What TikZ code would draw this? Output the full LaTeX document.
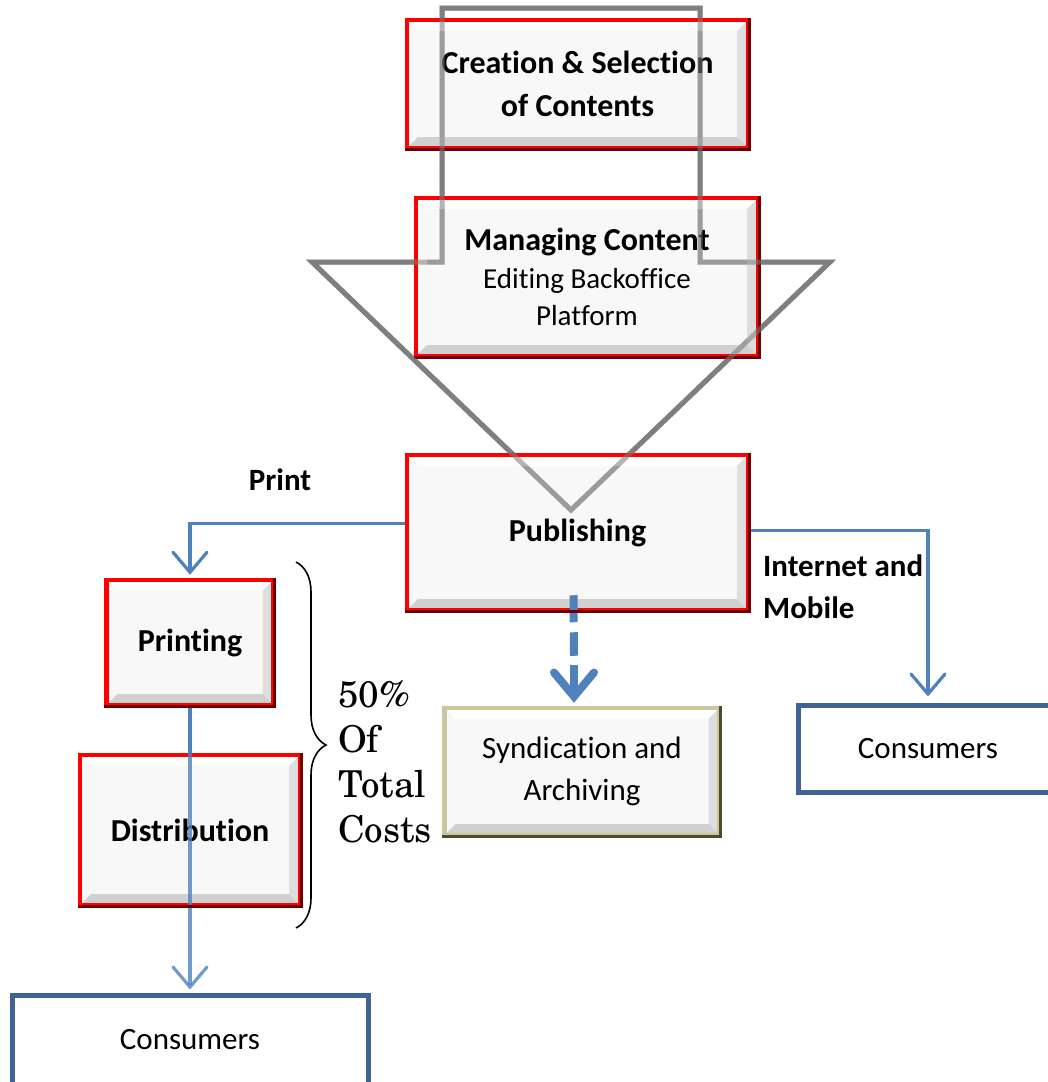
\documentclass[tikz,border=0pt]{standalone}
\usepackage{fontspec}
\newfontfamily\calfont[Ligatures=NoCommon]{Carlito}
\newfontfamily\scholafont{texgyreschola-regular.otf}
\usetikzlibrary{arrows.meta,decorations.pathreplacing}
\definecolor{boxred}{HTML}{FF0000}
\definecolor{darkred}{HTML}{6E0000}
\definecolor{lineblue}{HTML}{4F81BD}
\definecolor{consblue}{HTML}{3F6392}
\definecolor{khaki}{HTML}{CBC5A0}
\definecolor{olivedark}{HTML}{4F4B2A}
\definecolor{boxfill}{HTML}{F2F2F2}
\definecolor{arrowgray}{HTML}{7F7F7F}
\begin{document}
\begin{tikzpicture}[x=1pt,y=-1pt,
  bevelbox/.style={rectangle, fill=boxfill, fill opacity=0.55, text opacity=1, inner sep=0pt, align=center, line width=4.5pt,
    path picture={
      \path (path picture bounding box.north west) coordinate (pA)
            (path picture bounding box.north east) coordinate (pB)
            (path picture bounding box.south east) coordinate (pC)
            (path picture bounding box.south west) coordinate (pD);
      \fill[white, fill opacity=0.9] (pA) -- (pB) -- ([shift={(-11pt,-11pt)}]pB) -- ([shift={(11pt,-11pt)}]pA) -- cycle;
      \fill[white!55!boxfill, fill opacity=0.9] (pA) -- ([shift={(11pt,-11pt)}]pA) -- ([shift={(11pt,11pt)}]pD) -- (pD) -- cycle;
      \fill[gray!28, fill opacity=0.9] (pB) -- (pC) -- ([shift={(-11pt,11pt)}]pC) -- ([shift={(-11pt,-11pt)}]pB) -- cycle;
      \fill[gray!40, fill opacity=0.9] (pD) -- (pC) -- ([shift={(-11pt,11pt)}]pC) -- ([shift={(11pt,11pt)}]pD) -- cycle;
    }},
  redbox/.style={bevelbox, draw=boxred},
  boldtxt/.style={font=\calfont\bfseries\fontsize{32}{43}\selectfont},
  regtxt/.style={font=\calfont\fontsize{31}{42}\selectfont},
  consbox/.style={rectangle, draw=consblue, line width=5pt, fill=white, inner sep=0pt, regtxt},
  bigarrow/.style={draw=arrowgray, line width=5pt, line join=miter},
  conn/.style={draw=lineblue, line width=3.2pt, -{Straight Barb[length=20pt,width=34pt,line cap=round]}},
  plainconn/.style={draw=lineblue, line width=3.2pt},
  dashline/.style={draw=lineblue, line width=8pt, dash pattern=on 27pt off 10pt},
  dashtip/.style={draw=lineblue, line width=8pt, -{Straight Barb[length=24pt,width=40pt,line width=8pt,line cap=round]}},
  lbl/.style={font=\calfont\bfseries\fontsize{31}{42}\selectfont, align=left, inner sep=0pt}
]
\useasboundingbox (0,0) rectangle (1048,1082);

% big background arrow
\draw[bigarrow] (442,8) -- (700,8) -- (700,262) -- (830,262) -- (571,510) -- (312,262) -- (442,262) -- cycle;

\node[redbox, boldtxt, minimum width=341pt, minimum height=155pt] (pub) at (577.5,532.5) {Publishing};
\node[redbox, boldtxt, minimum width=167pt, minimum height=125pt] (printing) at (190,642.5) {Printing};
\node[redbox, boldtxt, minimum width=220pt, minimum height=150pt] (distrib) at (190,830) {Distribution};
\node[consbox, minimum width=356pt, minimum height=90pt] (cons1) at (190,1040) {Consumers};
\node[consbox, minimum width=260pt, minimum height=87pt] (cons2) at (928,748.5) {Consumers};
\node[bevelbox, draw=khaki, regtxt, minimum width=275pt, minimum height=127pt] (synd) at (582,771.5) {Syndication and\\Archiving};

% connectors
\draw[conn] ([yshift=9pt]pub.west) -| ([yshift=3pt]printing.north);
\draw[conn] ([yshift=2pt]pub.east) -| ([yshift=6pt]cons2.north);
\draw[dashline] ([xshift=-4pt,yshift=17pt]pub.south) -- ([xshift=-8pt,yshift=50pt]synd.north);
\draw[dashtip] ([xshift=-8pt,yshift=41pt]synd.north) -- ([xshift=-8pt,yshift=3pt]synd.north);
\draw[plainconn] (printing.south) -- (distrib.north);
\draw[conn, opacity=0.8] (distrib.north) -- ([yshift=3pt]distrib.north |- cons1.north);

\node[redbox, boldtxt, minimum width=341pt, minimum height=128pt] (create) at (577.5,84) {Creation \& Selection\\of Contents};
\node[redbox, font=\calfont\fontsize{29}{37}\selectfont, minimum width=342pt, minimum height=158pt] (manage) at (587,277) {{\calfont\bfseries\fontsize{32}{38}\selectfont Managing Content}\\[1pt]Editing Backoffice\\Platform};

\foreach \n in {create,manage,pub,printing,distrib}{
  \draw[darkred, line width=3pt] ([xshift=-1pt]\n.north east) -- ([shift={(-1pt,1pt)}]\n.south east) -- ([yshift=1pt]\n.south west);
}
\draw[olivedark, line width=3pt] ([xshift=-1pt]synd.north east) -- ([shift={(-1pt,1pt)}]synd.south east) -- ([yshift=1pt]synd.south west);

% arrow outline shows through the boxes
\draw[bigarrow, opacity=0.55] (442,8) -- (700,8) -- (700,262) -- (830,262) -- (571,510) -- (312,262) -- (442,262) -- cycle;

% labels
\node[lbl] (printlbl) at (280,480) {Print};
\node[lbl, anchor=west] (netlbl) at (763,587) {Internet and\\Mobile};

% brace
\coordinate (bt) at (296,562);
\coordinate (bb) at (296,928);
\draw[line width=1.6pt, decorate, decoration={brace, amplitude=30pt}] (bt) -- (bb);
\node[anchor=west, align=left, inner sep=0pt, font=\scholafont\fontsize{37}{45}\selectfont] (cost) at (338,762) {50\%\\Of\\Total\\Costs};
\end{tikzpicture}
\end{document}
